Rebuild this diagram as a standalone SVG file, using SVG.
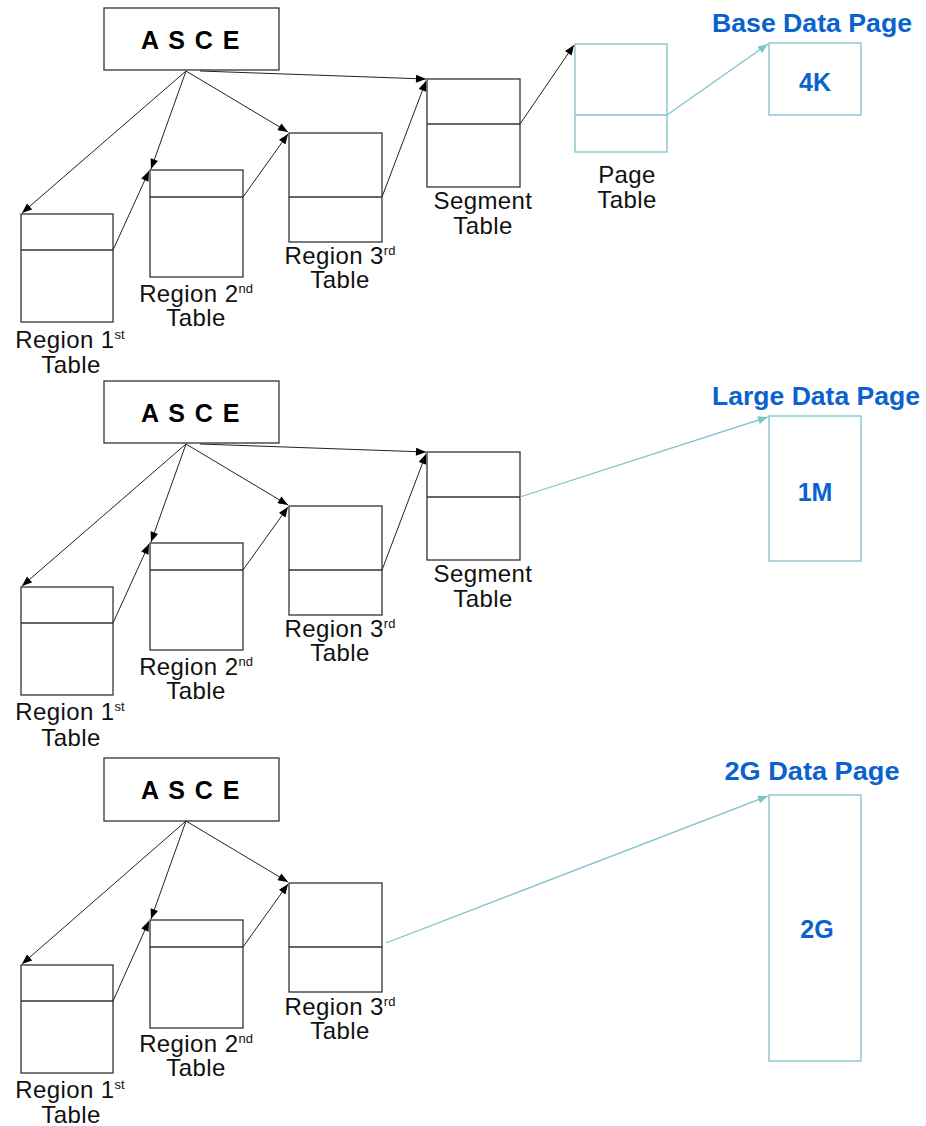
<svg xmlns="http://www.w3.org/2000/svg" width="926" height="1126" viewBox="0 0 926 1126">
<style>
.bx{fill:#fff;stroke:#333;stroke-width:1.3}
.tb{fill:#fff;stroke:#7cc4c9;stroke-width:1.3}
.dv{stroke:#333;stroke-width:1.3}
.dvt{stroke:#7cc4c9;stroke-width:1.3}
.lbl{font-family:"Liberation Sans",Arial,sans-serif;font-size:24px;letter-spacing:0.4px;fill:#111;text-anchor:middle}
.sup{font-size:13px;letter-spacing:0}
.asce{font-family:"Liberation Sans",Arial,sans-serif;font-size:25px;font-weight:bold;fill:#000;text-anchor:middle;letter-spacing:1.5px}
.ttl{font-family:"Liberation Sans",Arial,sans-serif;font-size:25px;font-weight:bold;fill:#0a62cf;text-anchor:middle}
.blk{stroke:#222;stroke-width:1;fill:none;marker-end:url(#ab)}
.tl{stroke:#7cc4c9;stroke-width:1.3;fill:none;marker-end:url(#at)}
</style>
<defs>
<marker id="ab" viewBox="0 0 10 8" refX="10" refY="4" markerWidth="11" markerHeight="8" orient="auto" markerUnits="userSpaceOnUse"><path d="M0,0 L10,4 L0,8 z" fill="#000"/></marker>
<marker id="at" viewBox="0 0 10 8" refX="10" refY="4" markerWidth="11" markerHeight="8" orient="auto" markerUnits="userSpaceOnUse"><path d="M0,0 L10,4 L0,8 z" fill="#7cc4c9"/></marker>
</defs>
<rect width="926" height="1126" fill="#fff"/>

<!-- Section 1 -->
<g id="asce1"><rect class="bx" x="104" y="8" width="175" height="62"/><text class="asce" x="191" y="49">A S C E</text></g>
<g id="r1t1"><rect class="bx" x="21" y="214" width="92" height="108"/><line class="dv" x1="21" y1="250" x2="113" y2="250"/><text class="lbl" x="70" y="348">Region 1<tspan class="sup" dy="-9">st</tspan><tspan x="71" dy="34">Table</tspan></text></g>
<g id="r2t1"><rect class="bx" x="150" y="170" width="93" height="107"/><line class="dv" x1="150" y1="197" x2="243" y2="197"/><text class="lbl" x="196" y="302">Region 2<tspan class="sup" dy="-9">nd</tspan><tspan x="196" dy="33">Table</tspan></text></g>
<g id="r3t1"><rect class="bx" x="289" y="133" width="93" height="109"/><line class="dv" x1="289" y1="197" x2="382" y2="197"/><text class="lbl" x="340" y="264">Region 3<tspan class="sup" dy="-9">rd</tspan><tspan x="340" dy="33">Table</tspan></text></g>
<g id="seg1"><rect class="bx" x="427" y="79" width="93" height="108"/><line class="dv" x1="427" y1="124" x2="520" y2="124"/><text class="lbl" x="483" y="209">Segment<tspan x="483" dy="25">Table</tspan></text></g>
<g id="pt1"><rect class="tb" x="575" y="44" width="92" height="108"/><line class="dvt" x1="575" y1="115" x2="667" y2="115"/><text class="lbl" x="627" y="183">Page<tspan x="627" dy="25">Table</tspan></text></g>
<g id="dp1"><text class="ttl" x="812" y="32" textLength="200" lengthAdjust="spacingAndGlyphs">Base Data Page</text><rect class="tb" x="769" y="43" width="92" height="72"/><text class="ttl" x="815" y="91">4K</text></g>

<!-- Section 2 -->
<g id="asce2"><rect class="bx" x="104" y="381" width="175" height="62"/><text class="asce" x="191" y="422">A S C E</text></g>
<g id="r1t2"><rect class="bx" x="21" y="587" width="92" height="108"/><line class="dv" x1="21" y1="623" x2="113" y2="623"/><text class="lbl" x="70" y="720">Region 1<tspan class="sup" dy="-9">st</tspan><tspan x="71" dy="35">Table</tspan></text></g>
<g id="r2t2"><rect class="bx" x="150" y="543" width="93" height="107"/><line class="dv" x1="150" y1="570" x2="243" y2="570"/><text class="lbl" x="196" y="675">Region 2<tspan class="sup" dy="-9">nd</tspan><tspan x="196" dy="33">Table</tspan></text></g>
<g id="r3t2"><rect class="bx" x="289" y="506" width="93" height="109"/><line class="dv" x1="289" y1="570" x2="382" y2="570"/><text class="lbl" x="340" y="637">Region 3<tspan class="sup" dy="-9">rd</tspan><tspan x="340" dy="33">Table</tspan></text></g>
<g id="seg2"><rect class="bx" x="427" y="452" width="93" height="108"/><line class="dv" x1="427" y1="497" x2="520" y2="497"/><text class="lbl" x="483" y="582">Segment<tspan x="483" dy="25">Table</tspan></text></g>
<g id="dp2"><text class="ttl" x="816" y="405" textLength="208" lengthAdjust="spacingAndGlyphs">Large Data Page</text><rect class="tb" x="769" y="416" width="92" height="145"/><text class="ttl" x="815" y="501">1M</text></g>

<!-- Section 3 -->
<g id="asce3"><rect class="bx" x="104" y="758" width="175" height="63"/><text class="asce" x="191" y="799">A S C E</text></g>
<g id="r1t3"><rect class="bx" x="21" y="965" width="92" height="108"/><line class="dv" x1="21" y1="1001" x2="113" y2="1001"/><text class="lbl" x="70" y="1098">Region 1<tspan class="sup" dy="-9">st</tspan><tspan x="71" dy="34">Table</tspan></text></g>
<g id="r2t3"><rect class="bx" x="150" y="920" width="93" height="108"/><line class="dv" x1="150" y1="947" x2="243" y2="947"/><text class="lbl" x="196" y="1052">Region 2<tspan class="sup" dy="-9">nd</tspan><tspan x="196" dy="33">Table</tspan></text></g>
<g id="r3t3"><rect class="bx" x="289" y="883" width="93" height="109"/><line class="dv" x1="289" y1="947" x2="382" y2="947"/><text class="lbl" x="340" y="1015">Region 3<tspan class="sup" dy="-9">rd</tspan><tspan x="340" dy="33">Table</tspan></text></g>
<g id="dp3"><text class="ttl" x="812" y="780" textLength="175" lengthAdjust="spacingAndGlyphs">2G Data Page</text><rect class="tb" x="769" y="795" width="92" height="266"/><text class="ttl" x="817" y="938">2G</text></g>

<g id="connectors">
<line class="blk" x1="186" y1="71" x2="22" y2="213"/>
<line class="blk" x1="186" y1="71" x2="151" y2="169"/>
<line class="blk" x1="186" y1="71" x2="288" y2="132"/>
<line class="blk" x1="200" y1="71" x2="426" y2="79"/>
<line class="blk" x1="113" y1="250" x2="149" y2="171"/>
<line class="blk" x1="243" y1="197" x2="288" y2="134"/>
<line class="blk" x1="382" y1="197" x2="426" y2="81"/>
<line class="blk" x1="520" y1="124" x2="574" y2="45"/>
<line class="tl" x1="667" y1="115" x2="768" y2="44"/>

<line class="blk" x1="186" y1="444" x2="22" y2="586"/>
<line class="blk" x1="186" y1="444" x2="151" y2="542"/>
<line class="blk" x1="186" y1="444" x2="288" y2="505"/>
<line class="blk" x1="200" y1="444" x2="426" y2="452"/>
<line class="blk" x1="113" y1="623" x2="149" y2="544"/>
<line class="blk" x1="243" y1="570" x2="288" y2="507"/>
<line class="blk" x1="382" y1="570" x2="426" y2="454"/>
<line class="tl" x1="520" y1="497" x2="768" y2="417"/>

<line class="blk" x1="186" y1="821" x2="22" y2="964"/>
<line class="blk" x1="186" y1="821" x2="151" y2="919"/>
<line class="blk" x1="186" y1="821" x2="288" y2="882"/>
<line class="blk" x1="113" y1="1001" x2="149" y2="921"/>
<line class="blk" x1="243" y1="947" x2="288" y2="884"/>
<line class="tl" x1="386" y1="943" x2="768" y2="796"/>
</g>
</svg>
